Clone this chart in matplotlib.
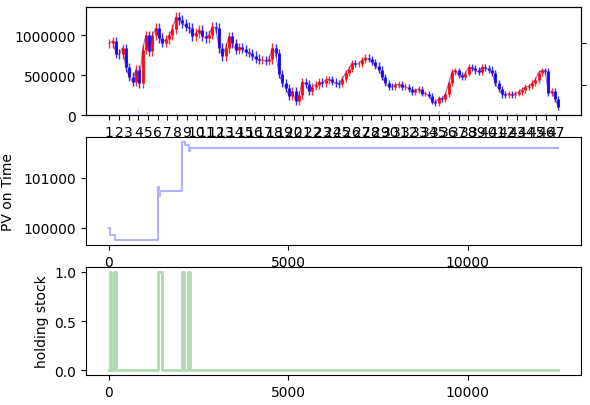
import numpy as np
import matplotlib
matplotlib.use('Agg')
import matplotlib.pyplot as plt

# closing prices (thousands), one every ~92.6 bars
close_k = [900, 930, 770, 760, 840, 600, 480, 420, 570, 400,
           820, 1000, 800, 1000, 1090, 970, 910, 950, 1000, 1080,
           1230, 1190, 1150, 1110, 1090, 990, 1030, 1070, 990, 970,
           1010, 1110, 1090, 845, 744, 845, 988, 900, 820, 850,
           830, 790, 780, 745, 705, 690, 690, 680, 700, 845,
           780, 520, 400, 340, 240, 297, 180, 250, 419, 390,
           300, 358, 378, 419, 398, 440, 450, 420, 400, 390,
           450, 530, 580, 650, 640, 643, 690, 720, 700, 663,
           620, 570, 480, 400, 357, 350, 380, 385, 350, 357,
           330, 290, 310, 330, 270, 270, 245, 170, 150, 210,
           200, 260, 398, 541, 560, 500, 480, 520, 600, 590,
           560, 540, 600, 590, 570, 530, 400, 330, 260, 250,
           270, 255, 270, 290, 317, 350, 360, 400, 440, 530,
           561, 550, 280, 300, 200, 97]
# high-low band height (thousands), one value per 10 candles
band_k = [110, 120, 120, 120, 110, 100, 90, 80, 80, 70, 70, 80, 70, 70]
n_bars = 12500

# volume (thousands), one per x tick
volume_k = [10, 15, 20, 70, 40, 30, 25, 20, 15, 20, 15, 10, 30, 20, 10, 35,
            30, 25, 15, 20, 10, 25, 15, 20, 30, 15, 10, 20, 30, 40, 35, 15,
            10, 30, 50, 40, 20, 45, 15, 10, 20, 25, 30, 25, 30, 20, 15]
tick_step = 270

# portfolio value over time (step changes)
pv_x = [0, 55, 170, 1370, 1410, 1440, 2046, 2140, 2230, 2270, 12530]
pv_y = [100000, 99850, 99750, 100820, 100640, 100730, 101720, 101650,
        101540, 101590, 101590]

# holding flag (step changes)
hold_x = [0, 40, 80, 160, 200, 1380, 1480, 2040, 2090, 2220, 2270, 12530]
hold_y = [0, 1, 0, 1, 0, 1, 0, 1, 0, 1, 0, 0]

close = np.array(close_k) * 1000.0
idx = np.linspace(0, n_bars, len(close))
opn = np.concatenate([[close[0]], close[:-1]])
up = close >= opn
colors = np.where(up, 'red', 'blue')
band = np.repeat(np.array(band_k) * 1000.0, 10)[:len(close)]
lo = np.minimum(opn, close)
hi = np.maximum(opn, close)

fig, axes = plt.subplots(3, 1, figsize=(5.9, 4.06), dpi=100)
fig.subplots_adjust(left=0.1458, right=0.9847, top=0.980, bottom=0.0739, hspace=0.204)
ax1, ax2, ax3 = axes

# top: candles + volume
ax1.vlines(idx, lo - band / 2, hi + band / 2, colors=colors, linewidth=1.0, alpha=0.8)
ax1.vlines(idx, lo, hi, colors=colors, linewidth=2.2, alpha=0.85)
ax1.plot(idx, close, color='purple', linewidth=0.8, alpha=0.6)
vol_x = np.arange(len(volume_k)) * tick_step
ax1.bar(vol_x, np.array(volume_k) * 1000.0, width=40, color='slateblue', alpha=0.3)
ax1.set_xticks(vol_x)
ax1.set_xticklabels([str(i + 1) for i in range(len(volume_k))])
ax1.set_yticks([0, 500000, 1000000])
ax1.set_ylim(0, None)
ax1.ticklabel_format(axis='y', style='plain')
tw = ax1.twinx()
tw.set_ylim(0, 1)
tw.set_yticks([30 / 108, 72 / 108])
tw.tick_params(labelright=False)

# middle: PV
ax2.plot(pv_x, pv_y, drawstyle='steps-post', color='blue', alpha=0.3, linewidth=1.5)
ax2.set_yticks([100000, 101000])
ax2.set_xticks([0, 5000, 10000])
ax2.ticklabel_format(axis='y', style='plain', useOffset=False)
ax2.set_ylabel('PV on Time', labelpad=6)

# bottom: holding
ax3.plot(hold_x, hold_y, drawstyle='steps-post', color='green', alpha=0.3, linewidth=2)
ax3.set_xticks([0, 5000, 10000])
ax3.set_ylabel('holding stock')

plt.savefig('out.png', dpi=100)
